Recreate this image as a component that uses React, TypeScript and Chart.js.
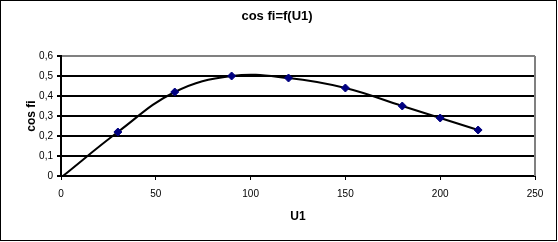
import React, { useEffect, useRef } from "react";
import { Chart, registerables } from "chart.js";

Chart.register(...registerables);

const U1 = [1, 30, 60, 90, 120, 150, 180, 200, 220];
const COS_FI = [0, 0.22, 0.42, 0.5, 0.49, 0.44, 0.35, 0.29, 0.23];
const MARKER_RADIUS = [0, 4, 4, 4, 4, 4, 4, 4, 4];
const X_MIN = 0;
const X_MAX = 250;
const X_STEP = 50;
const Y_MIN = 0;
const Y_MAX = 0.6;
const Y_STEP = 0.1;

const FONT = 'Arial, "Liberation Sans", sans-serif';

const framePlugin = {
  id: "frame",
  beforeDatasetsDraw(chart: any) {
    const { ctx, chartArea } = chart;
    ctx.save();
    ctx.strokeStyle = "#808080";
    ctx.lineWidth = 2;
    ctx.beginPath();
    ctx.moveTo(chartArea.right, chartArea.top);
    ctx.lineTo(chartArea.right, chartArea.bottom);
    ctx.stroke();
    ctx.restore();
  },
  afterDraw(chart: any) {
    const { ctx } = chart;
    ctx.save();
    ctx.strokeStyle = "#000000";
    ctx.lineWidth = 1;
    ctx.strokeRect(0.5, 0.5, 556, 240);
    ctx.restore();
  },
};

export default function App() {
  const ref = useRef<HTMLCanvasElement | null>(null);

  useEffect(() => {
    document.body.style.margin = "0";
    const canvas = ref.current;
    if (!canvas) return;
    const chart = new Chart(canvas, {
      type: "line",
      data: {
        datasets: [
          {
            data: U1.map((x, i) => ({ x, y: COS_FI[i] })),
            borderColor: "#000000",
            borderWidth: 2,
            tension: 0.4,
            fill: false,
            pointStyle: "rectRot",
            pointRadius: MARKER_RADIUS,
            pointBackgroundColor: "#000080",
            pointBorderColor: "#000080",
            pointBorderWidth: 1,
          },
        ],
      },
      options: {
        responsive: false,
        animation: false,
        devicePixelRatio: 1,
        layout: { padding: { left: 9, right: 13, top: 0, bottom: 0 } },
        plugins: {
          legend: { display: false },
          tooltip: { enabled: false },
          title: {
            display: true,
            text: "cos fi=f(U1)",
            color: "#000000",
            font: { family: FONT, size: 13, weight: "bold" },
            padding: { top: 8.2, bottom: 32.2 },
          },
        },
        scales: {
          x: {
            type: "linear",
            min: X_MIN,
            max: X_MAX,
            afterFit: (scale: any) => {
              scale.height = 66;
            },
            ticks: {
              stepSize: X_STEP,
              color: "#000000",
              font: { family: FONT, size: 10 },
              padding: 8,
              maxRotation: 0,
            },
            grid: {
              drawOnChartArea: false,
              drawTicks: true,
              tickLength: 4,
              tickColor: "#000000",
              color: "#000000",
            },
            border: { color: "#000000", width: 2 },
            title: {
              display: true,
              text: "U1",
              color: "#000000",
              font: { family: FONT, size: 12, weight: "bold" },
              padding: { top: 0, bottom: 17.8 },
            },
          },
          y: {
            type: "linear",
            min: Y_MIN,
            max: Y_MAX,
            afterFit: (scale: any) => {
              scale.width = 52;
            },
            ticks: {
              stepSize: Y_STEP,
              color: "#000000",
              font: { family: FONT, size: 10 },
              padding: 4,
              callback: (v: any) => {
                const n = Number(v);
                if (Math.abs(n) < 1e-9) return "0";
                return n.toFixed(1).replace(".", ",");
              },
            },
            grid: {
              drawTicks: true,
              tickLength: 4,
              tickColor: "#000000",
              lineWidth: 2,
              color: (ctx: any) =>
                ctx.tick && Math.abs(ctx.tick.value - Y_MAX) < 1e-6 ? "#808080" : "#000000",
            },
            border: { color: "#000000", width: 2 },
            title: {
              display: true,
              text: "cos fi",
              color: "#000000",
              font: { family: FONT, size: 12, weight: "bold" },
              padding: { top: 15, bottom: 0 },
            },
          },
          spacer: {
            type: "linear",
            position: "right",
            min: Y_MIN,
            max: Y_MAX,
            afterFit: (scale: any) => {
              scale.width = 10;
            },
            ticks: { display: false },
            grid: { display: false, drawTicks: false },
            border: { display: false },
            title: { display: false },
          },
        },
      },
      plugins: [framePlugin],
    });
    return () => chart.destroy();
  }, []);

  return <canvas ref={ref} width={558} height={242} style={{ display: "block" }} />;
}
